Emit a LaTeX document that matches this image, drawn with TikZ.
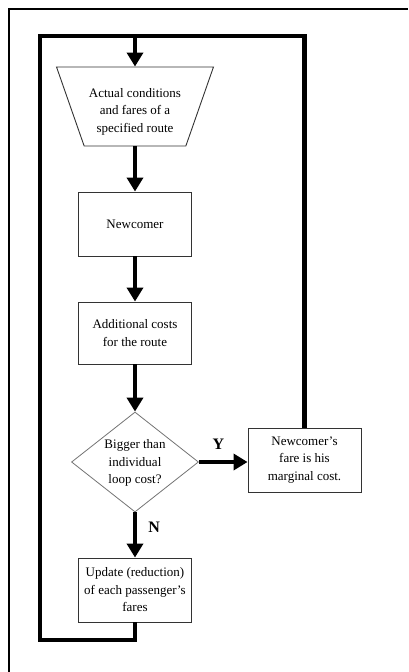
\documentclass[tikz,border=0pt]{standalone}
\usepackage{fontspec}
\setmainfont{Liberation Serif}
\usetikzlibrary{arrows.meta,shapes.geometric}
\tikzset{
  txt/.style={font=\fontsize{13}{17.5}\selectfont, align=center, inner sep=0pt},
  procbox/.style={draw=black!80, line width=0.9pt, minimum width=113pt, minimum height=64pt, inner sep=2pt, txt},
  inputbox/.style={draw=black!80, line width=0.9pt, trapezium, trapezium stretches=true,
    shape border rotate=180, trapezium angle=74.8, minimum width=157pt, minimum height=79pt, inner sep=2pt},
  decision/.style={draw=black!55, line width=0.8pt, diamond, minimum width=127pt, minimum height=100pt, inner sep=2pt},
  flow/.style={line width=4.5pt, -{Triangle[length=14pt,width=16pt]}},
  loopline/.style={line width=4.5pt, line join=miter},
  answer/.style={font=\fontsize{16}{16}\selectfont\bfseries, inner sep=0pt}
}
\begin{document}
\begin{tikzpicture}[x=1pt,y=-1pt]
  \useasboundingbox (0,0) rectangle (408,672);
  % outer frame
  \draw[line width=1.4pt] (9,672) -- (9,9) -- (408,9);

  % flowchart nodes
  \node[inputbox] (input) at (135,106.5) {};
  \node[txt] (inputtxt) at (135,111.5) {Actual conditions\\and fares of a\\specified route};
  \node[procbox] (newc) at (135,224) {Newcomer};
  \node[procbox, minimum height=62pt] (cost) at (135,333) {Additional costs\\for the route};
  \node[decision] (test) at (135,462) {};
  \node[txt] (testtxt) at (135,463) {Bigger than\\individual\\loop cost?};
  \node[procbox] (fare) at (304.5,460) {Newcomer's\\fare is his\\marginal cost.};
  \node[procbox] (upd) at (135,590) {Update (reduction)\\of each passenger's\\fares};

  % loop corners
  \coordinate (bl) at (40,640);
  \coordinate (tr) at (304.5,36);
  \coordinate (tm) at (135,36);

  % feedback loop
  \draw[loopline] (upd.south) |- (bl) |- (tr) -- (fare.north);
  \draw[flow] (tm) -- (input.north);

  % main flow
  \draw[flow] (input.south) -- (newc.north);
  \draw[flow] (newc.south) -- (cost.north);
  \draw[flow] (cost.south) -- (test.north);
  \draw[flow] (test.east) -- (fare.west |- test.east) node[answer, pos=0.4, above=10pt] (yes) {Y};
  \draw[flow] (test.south) -- (upd.north) node[answer, pos=0.33, right=11pt] (no) {N};
\end{tikzpicture}
\end{document}
